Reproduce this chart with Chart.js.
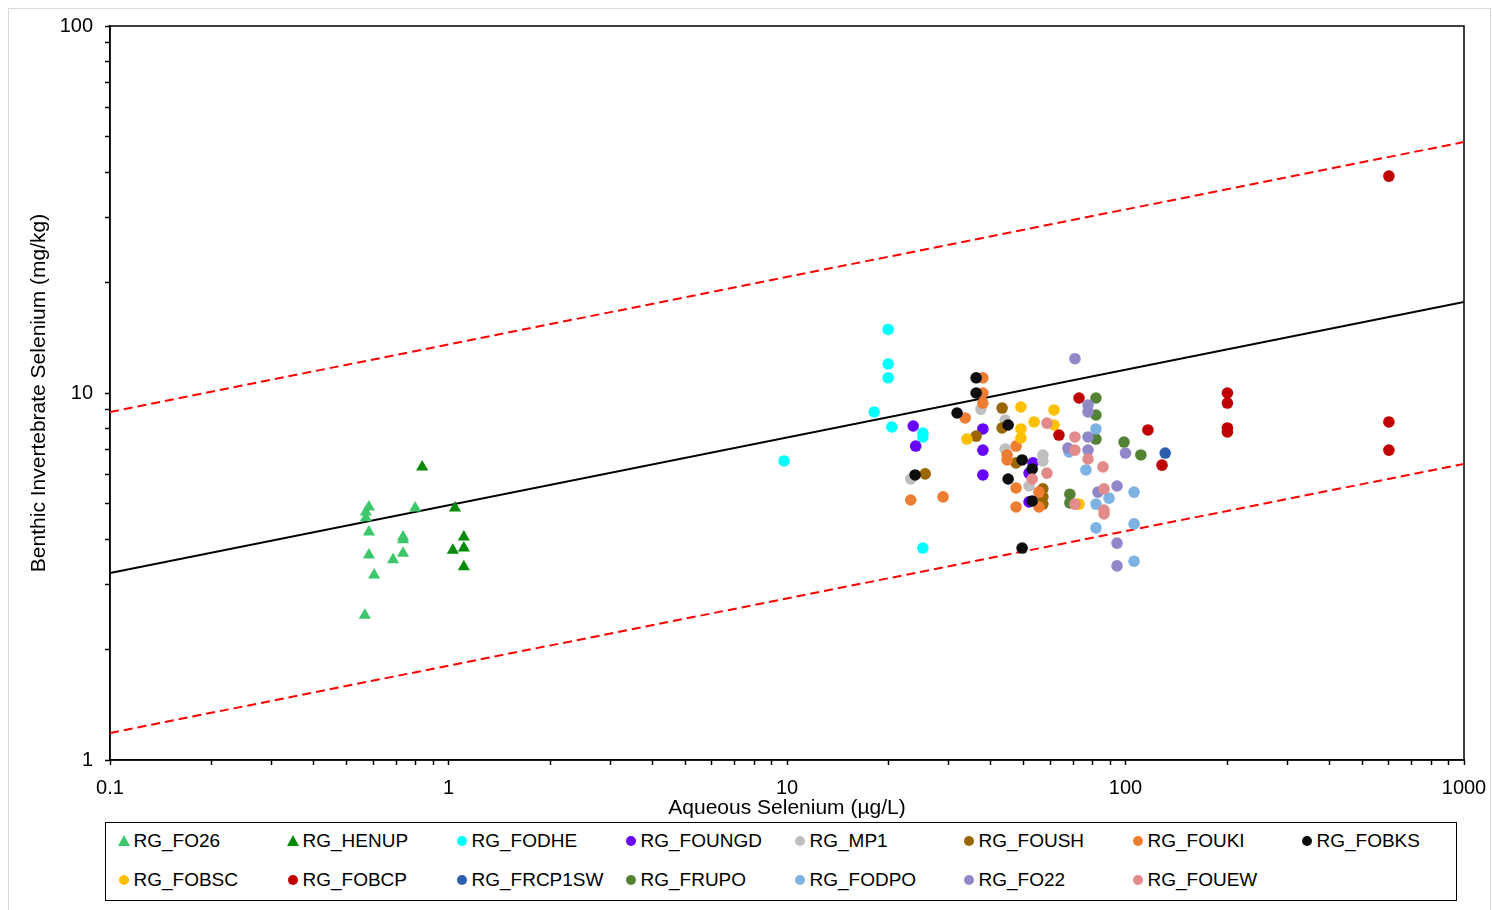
<!DOCTYPE html>
<html>
<head>
<meta charset="utf-8">
<script src="https://cdn.jsdelivr.net/npm/chart.js@4.4.1/dist/chart.umd.min.js"></script>
<style>
  html, body { margin: 0; padding: 0; background: #fff; }
  body { width: 1492px; height: 910px; position: relative; overflow: hidden; font-family: "Liberation Sans", Arial, sans-serif; }
  #outer { position: absolute; left: 8px; top: 8px; width: 1483px; height: 940px; border: 1px solid #d9d9d9; box-sizing: border-box; }
  #plot { position: absolute; left: 0; top: 0; }
  #legend { position: absolute; left: 105px; top: 822px; width: 1352px; height: 79px; border: 1.5px solid #000; box-sizing: border-box; background: #fff; }
  .item { position: absolute; height: 24px; line-height: 24px; font-size: 19px; color: #000; white-space: nowrap; }
  .item span { position: absolute; left: 16px; top: 0; }
  .dot { position: absolute; left: 1px; top: 7px; width: 10px; height: 10px; border-radius: 50%; }
  .tri { position: absolute; left: 0; top: 6px; width: 0; height: 0; border-left: 6px solid transparent; border-right: 6px solid transparent; border-bottom: 11px solid; }
</style>
</head>
<body>
<div id="outer"></div>
<canvas id="plot" width="1492" height="830"></canvas>
<div id="legend"></div>
<script>
  // aqueous Se (ug/L) vs benthic invertebrate Se (mg/kg), one array per site
  const seriesNames = ['RG_FO26', 'RG_HENUP', 'RG_FODHE', 'RG_FOUNGD', 'RG_MP1', 'RG_FOUSH', 'RG_FOUKI', 'RG_FOBKS',
                       'RG_FOBSC', 'RG_FOBCP', 'RG_FRCP1SW', 'RG_FRUPO', 'RG_FODPO', 'RG_FO22', 'RG_FOUEW'];

  const fo26 = [[0.582,4.89],[0.570,4.74],[0.570,4.57],[0.582,4.18],[0.582,3.62],[0.603,3.19],[0.566,2.48],
                [0.797,4.86],[0.734,4.05],[0.734,3.98],[0.734,3.66],[0.686,3.51]];
  const henup = [[0.836,6.29],[1.045,4.86],[1.11,4.05],[1.03,3.73],[1.11,3.78],[1.11,3.36]];
  const fodhe = [[19.9,14.9],[19.9,12.0],[19.9,11.0],[18.1,8.88],[20.4,8.08],[25.2,7.78],[25.2,7.59],[9.8,6.53],[25.2,3.78]];
  const foungd = [[23.6,8.13],[24.0,7.17],[37.9,7.98],[37.9,6.99],[37.9,5.98],[53.3,6.45],[51.9,6.05],[51.9,5.05]];
  const mp1 = [[23.2,5.83],[37.4,9.04],[44.1,8.44],[44.1,7.04],[57.0,6.78],[57.0,6.53],[51.9,5.58]];
  const foush = [[25.6,6.02],[43.2,9.10],[43.2,8.03],[36.2,7.63],[47.5,6.45],[57.0,5.48],[57.0,5.21],[57.0,4.98]];
  const fouki = [[23.2,5.11],[28.9,5.21],[37.9,11.0],[37.9,10.0],[37.9,9.39],[33.6,8.55],[47.5,7.17],[44.7,6.78],
                 [44.7,6.57],[47.5,5.51],[47.5,4.89],[55.5,5.37],[55.5,4.89]];
  const fobks = [[23.9,5.98],[31.8,8.82],[36.2,11.0],[36.2,10.0],[45.0,8.18],[49.5,6.57],[53.0,6.21],[45.0,5.83],
                 [53.0,5.08],[49.5,3.78]];
  const fobsc = [[49.1,9.16],[53.7,8.34],[61.5,8.99],[61.5,8.18],[49.1,7.98],[49.1,7.54],[34.0,7.49],[72.9,4.98]];
  const fobcp = [[63.6,7.68],[72.9,9.69],[116.5,7.93],[128.2,6.36],[600,39.0],[200,10.0],[200,9.39],[200,8.03],
                 [200,7.83],[600,8.34],[600,6.99]];
  const frcp1sw = [[131,6.86]];
  const frupo = [[81.8,9.69],[81.8,8.71],[81.8,7.49],[99.0,7.35],[111,6.78],[68.5,5.30],[68.5,5.02]];
  const fodpo = [[81.8,7.98],[68.1,6.91],[76.4,6.17],[89.4,5.17],[106,5.37],[81.8,4.98],[81.8,4.29],[106,4.40],[106,3.48]];
  const fo22 = [[70.9,12.4],[77.5,9.27],[77.5,8.88],[77.5,7.59],[67.6,7.08],[77.5,6.99],[100,6.86],[94.4,5.58],
                [82.9,5.37],[94.4,3.90],[94.4,3.38]];
  const fouew = [[58.6,8.28],[70.9,7.59],[70.9,6.99],[77.5,6.61],[58.6,6.05],[53.0,5.83],[85.8,6.29],[86.4,5.48],
                 [86.4,4.80],[86.4,4.68],[70.9,4.98]];

  const seriesData = [fo26, henup, fodhe, foungd, mp1, foush, fouki, fobks, fobsc, fobcp, frcp1sw, frupo, fodpo, fo22, fouew];

  // regression line and its upper/lower bounds
  const fitX = [0.1, 1000];
  const fitY = [3.23, 17.7];
  const upperY = [8.88, 48.3];
  const lowerY = [1.185, 6.41];

  const xMajor = [0.1, 1, 10, 100, 1000];
  const xTickLabels = ['0.1', '1', '10', '100', '1000'];
  const yMajor = [1, 10, 100];
  const yTickLabels = ['1', '10', '100'];

  const colors = ['#3cc76a', '#078a07', '#00ffff', '#6600ff', '#bfbfbf', '#996600', '#ed7d31', '#0d0d0d',
                  '#ffc000', '#c00000', '#2f5fac', '#548235', '#7db2e2', '#9088c8', '#e38b8b'];
  const shapes = ['triangle', 'triangle'];

  function logTicks(major) {
    const out = [];
    major.forEach((m, i) => {
      if (i === major.length - 1) { out.push(m); return; }
      for (let k = 1; k < 10; k++) out.push(m * k);
    });
    return out;
  }

  function labelFor(major, labels) {
    return (value) => {
      const i = major.findIndex(m => Math.abs(m - value) < m * 1e-6);
      return i >= 0 ? labels[i] : '';
    };
  }

  const toPts = (xs, ys) => xs.map((x, i) => ({ x: x, y: ys[i] }));

  const datasets = seriesData.map((pts, i) => ({
    label: seriesNames[i],
    data: pts.map(p => ({ x: p[0], y: p[1] })),
    pointStyle: shapes[i] || 'circle',
    pointRadius: shapes[i] ? 7 : 5.8,
    pointHoverRadius: shapes[i] ? 7 : 5.8,
    backgroundColor: colors[i],
    borderColor: colors[i],
    borderWidth: 0,
    order: seriesData.length - i
  }));

  datasets.push(
    { label: 'fit', data: toPts(fitX, fitY), showLine: true, pointRadius: 0, borderColor: '#000', borderWidth: 2, order: 100 },
    { label: 'upper', data: toPts(fitX, upperY), showLine: true, pointRadius: 0, borderColor: '#ff0000', borderWidth: 2, borderDash: [9, 5], order: 100 },
    { label: 'lower', data: toPts(fitX, lowerY), showLine: true, pointRadius: 0, borderColor: '#ff0000', borderWidth: 2, borderDash: [9, 5], order: 100 }
  );

  // box around the plot area
  const frame = {
    id: 'frame',
    beforeDatasetsDraw(chart) {
      const a = chart.chartArea, ctx = chart.ctx;
      ctx.save();
      ctx.strokeStyle = '#000';
      ctx.lineWidth = 1.5;
      ctx.strokeRect(a.left, a.top, a.right - a.left, a.bottom - a.top);
      ctx.restore();
    }
  };

  Chart.defaults.font.family = '"Liberation Sans", Arial, sans-serif';
  Chart.defaults.color = '#000';

  const chart = new Chart(document.getElementById('plot'), {
    type: 'scatter',
    data: { datasets: datasets },
    options: {
      responsive: false,
      animation: false,
      devicePixelRatio: 1,
      layout: { padding: { left: 0, right: 28, top: 26, bottom: 0 } },
      plugins: { legend: { display: false }, tooltip: { enabled: false } },
      scales: {
        x: {
          type: 'logarithmic',
          min: 0.1, max: 1000,
          afterFit: s => { s.height = 70; s.paddingLeft = 0; s.paddingRight = 0; },
          afterBuildTicks: s => { s.ticks = logTicks(xMajor).map(v => ({ value: v })); },
          ticks: { autoSkip: false, maxRotation: 0, padding: 11, font: { size: 20 }, callback: labelFor(xMajor, xTickLabels) },
          grid: { drawOnChartArea: false, tickLength: 5, tickColor: '#000', tickWidth: 1.5 },
          border: { color: '#000', width: 1.5 },
          title: { display: true, text: 'Aqueous Selenium (µg/L)', font: { size: 21 }, padding: { top: 0, bottom: 9 } }
        },
        y: {
          type: 'logarithmic',
          min: 1, max: 100,
          afterFit: s => { s.width = 110; s.paddingTop = 0; s.paddingBottom = 0; },
          afterBuildTicks: s => { s.ticks = logTicks(yMajor).map(v => ({ value: v })); },
          ticks: { autoSkip: false, padding: 12, font: { size: 20 }, callback: labelFor(yMajor, yTickLabels) },
          grid: { drawOnChartArea: false, tickLength: 5, tickColor: '#000', tickWidth: 1.5 },
          border: { color: '#000', width: 1.5 },
          title: { display: true, text: 'Benthic Invertebrate Selenium (mg/kg)', font: { size: 21 }, padding: { top: 27, bottom: 0 } }
        }
      }
    },
    plugins: [frame]
  });

  // legend: 8 columns, two rows
  const legend = document.getElementById('legend');
  chart.data.datasets.slice(0, seriesNames.length).forEach((ds, i) => {
    const item = document.createElement('div');
    item.className = 'item';
    item.style.left = (11.5 + (i % 8) * 169) + 'px';
    item.style.top = (Math.floor(i / 8) === 0 ? 5.5 : 44.5) + 'px';
    const mark = document.createElement('div');
    if (ds.pointStyle === 'triangle') {
      mark.className = 'tri';
      mark.style.borderBottomColor = ds.backgroundColor;
    } else {
      mark.className = 'dot';
      mark.style.background = ds.backgroundColor;
    }
    const text = document.createElement('span');
    text.textContent = ds.label;
    item.appendChild(mark);
    item.appendChild(text);
    legend.appendChild(item);
  });
</script>
</body>
</html>
